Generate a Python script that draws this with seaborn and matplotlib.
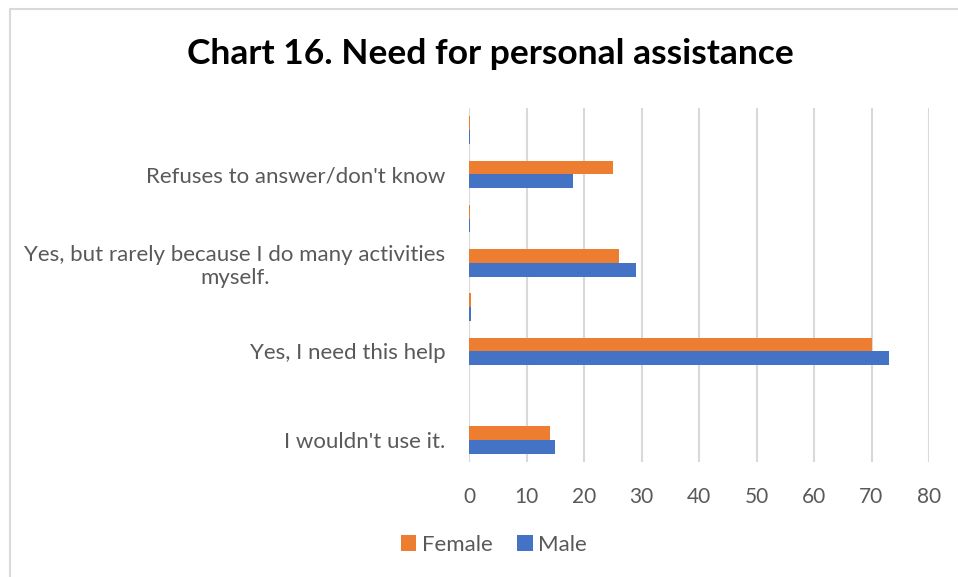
import matplotlib
matplotlib.use("Agg")
import matplotlib.pyplot as plt
from matplotlib.lines import Line2D
from matplotlib.patches import Patch
import seaborn as sns
import pandas as pd

# Rows from top to bottom; the unnamed rows are spacer categories with (near) zero counts
row_labels = [
    "",
    "Refuses to answer/don't know",
    "",
    "Yes, but rarely because I do many activities\nmyself.",
    "",
    "Yes, I need this help",
    "",
    "I wouldn't use it.",
]
female = [0.1, 25, 0.1, 26, 0.4, 70, 0.0, 14]
male = [0.1, 18, 0.1, 29, 0.4, 73, 0.0, 15]
series = ["Female", "Male"]
colors = {"Female": "#ED7D31", "Male": "#4472C4"}
x_ticks = [0, 10, 20, 30, 40, 50, 60, 70, 80]

rows = list(range(len(row_labels)))
df = pd.DataFrame({
    "row": rows * 2,
    "value": female + male,
    "sex": ["Female"] * len(rows) + ["Male"] * len(rows),
})

sns.set_theme(style="white")
plt.rcParams["font.family"] = ["Lato", "DejaVu Sans"]

fig = plt.figure(figsize=(9.58, 5.77), dpi=100)
ax = fig.add_axes([469 / 958, 1 - 462 / 577, (929 - 469) / 958, (462 - 108) / 577])

sns.barplot(data=df, x="value", y="row", hue="sex", hue_order=series,
            palette=colors, saturation=1, orient="h", width=0.62, ax=ax,
            edgecolor="none", linewidth=0, legend=False, zorder=3)

ax.set_xlim(0, 80)
ax.set_xticks(x_ticks)
ax.set_xticklabels([str(t) for t in x_ticks])
ax.set_yticks(rows)
ax.set_yticklabels(row_labels, multialignment="center")
ax.set_xlabel("")
ax.set_ylabel("")
for s in ax.spines.values():
    s.set_visible(False)
ax.grid(axis="x", color="#D9D9D9", linewidth=1.5, zorder=0)
ax.grid(axis="y", visible=False)
ax.tick_params(axis="x", length=0, pad=18, labelsize=15, labelcolor="#595959")
ax.tick_params(axis="y", length=0, pad=17, labelsize=16, labelcolor="#595959")

fig.text(490 / 958, 1 - 54 / 577, "Chart 16. Need for personal assistance",
         ha="center", va="center", fontsize=25.5, fontweight="bold", color="black")

handles = [Patch(facecolor=colors[s], edgecolor="none", label=s) for s in series]
fig.legend(handles=handles, loc="center", bbox_to_anchor=(494 / 958, 1 - 545 / 577),
           ncol=2, frameon=False, fontsize=16, labelcolor="#595959",
           handlelength=0.7, handleheight=0.7, handletextpad=0.25, columnspacing=1.1)

# chart area border
fig.add_artist(Line2D([10 / 958, 10 / 958], [0, 1 - 9 / 577], transform=fig.transFigure,
                      color="#D9D9D9", linewidth=1.5))
fig.add_artist(Line2D([10 / 958, 1], [1 - 9 / 577, 1 - 9 / 577], transform=fig.transFigure,
                      color="#D9D9D9", linewidth=1.5))

fig.savefig("out.png", dpi=100, facecolor="white")
